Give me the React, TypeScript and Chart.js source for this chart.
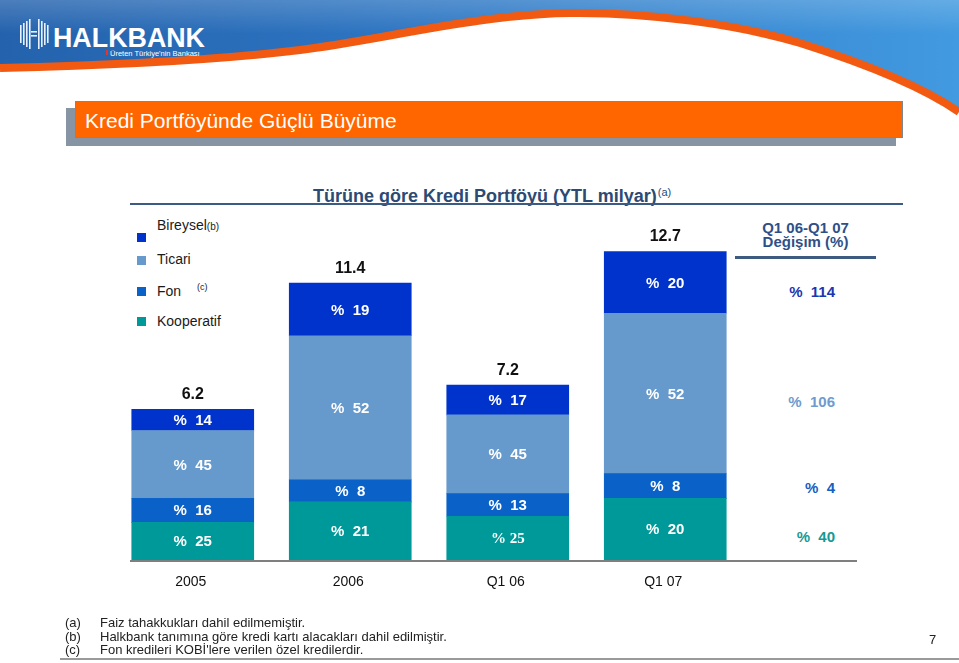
import React, { useEffect, useRef } from 'react';
import { Chart, registerables } from 'chart.js';

Chart.register(...registerables);

// ---- data ----
const categories = ['2005', '2006', 'Q1 06', 'Q1 07'];
const totals = [6.2, 11.4, 7.2, 12.7]; // YTL milyar
const seriesNames = ['Bireysel', 'Ticari', 'Fon', 'Kooperatif'];
const bireyselPct = [14, 19, 17, 20];
const ticariPct = [45, 52, 45, 52];
const fonPct = [16, 8, 13, 8];
const kooperatifPct = [25, 21, 25, 20];
const changePct = [114, 106, 4, 40]; // Q1 06-Q1 07 Değişim, order as seriesNames
const seriesColors = ['#0033CC', '#6699CC', '#0A62C8', '#009999'];
const changeColors = ['#1a36b0', '#6f9bcd', '#1560bf', '#159a95'];
const footnotes = [
  ['(a)', 'Faiz tahakkukları dahil edilmemiştir.'],
  ['(b)', 'Halkbank tanımına göre kredi kartı alacakları dahil edilmiştir.'],
  ['(c)', 'Fon kredileri KOBİ\'lere verilen özel kredilerdir.'],
];

const pctBySeries = [bireyselPct, ticariPct, fonPct, kooperatifPct];
const FONT = '"Liberation Sans", Arial, Helvetica, sans-serif';

const labelPlugin = {
  id: 'slideLabels',
  afterDatasetsDraw(chart: any) {
    const { ctx } = chart;
    ctx.save();
    ctx.textAlign = 'center';
    ctx.textBaseline = 'middle';
    const n = chart.data.datasets.length;
    for (let d = 0; d < n; d++) {
      const ds: any = chart.data.datasets[d];
      const meta = chart.getDatasetMeta(d);
      meta.data.forEach((bar: any, i: number) => {
        const p = bar.getProps(['x', 'y', 'base'], true);
        const pct = ds.pct[i];
        const serif = ds.label === 'Kooperatif' && categories[i] === 'Q1 06';
        ctx.fillStyle = '#ffffff';
        ctx.font = serif ? 'bold 15px "Liberation Serif", "Times New Roman", serif' : 'bold 15px ' + FONT;
        ctx.fillText(serif ? '% ' + pct : '%  ' + pct, p.x, (p.y + p.base) / 2 + 1);
        if (d === n - 1) {
          ctx.fillStyle = '#111111';
          ctx.font = 'bold 16px ' + FONT;
          ctx.fillText(totals[i].toFixed(1), p.x, p.y - 15);
        }
      });
    }
    // baseline
    const y0 = chart.scales.y.getPixelForValue(0);
    ctx.strokeStyle = '#7f7f7f';
    ctx.lineWidth = 2;
    ctx.beginPath();
    ctx.moveTo(130, y0 + 1);
    ctx.lineTo(857, y0 + 1);
    ctx.stroke();
    // category labels
    ctx.fillStyle = '#111111';
    ctx.font = '14px ' + FONT;
    categories.forEach((c, i) => {
      ctx.fillText(c, chart.scales.x.getPixelForValue(i) - 2, y0 + 22);
    });
    ctx.restore();
  },
};

const ARC = 'C120,65 220,60 300,50 C380,40 480,14 570,13 C650,12 740,25 800,43 C860,62 920,85 959,112';
const FILL = 'M0,0 H959 V112 C920,85 860,62 800,43 C740,25 650,12 570,13 C480,14 380,40 300,50 C220,60 120,65 0,68 Z';

function Header() {
  return (
    <svg width={959} height={118} style={{ position: 'absolute', left: 0, top: 0 }}>
      <defs>
        <linearGradient id="hb" x1="0" y1="0" x2="1" y2="0">
          <stop offset="0" stopColor="#2462ad" />
          <stop offset="0.5" stopColor="#2f79c6" />
          <stop offset="1" stopColor="#429ae0" />
        </linearGradient>
        <linearGradient id="hv" x1="0" y1="0" x2="0" y2="1">
          <stop offset="0" stopColor="#ffffff" stopOpacity="0.18" />
          <stop offset="0.3" stopColor="#ffffff" stopOpacity="0" />
        </linearGradient>
      </defs>
      <path d={FILL} fill="url(#hb)" />
      <path d={FILL} fill="url(#hv)" />
      <path d={'M0,68 ' + ARC} fill="none" stroke="#f25a12" strokeWidth={8} />
      {/* emblem */}
      <g fill="#e8f1fb">
        {[20, 23, 26, 29].map((x, k) => (
          <rect key={'l' + k} x={x} y={19 + (3 - k) * 2} width={1.6} height={30 - (3 - k) * 4} />
        ))}
        {[38, 41, 44, 47].map((x, k) => (
          <rect key={'r' + k} x={x} y={19 + k * 2} width={1.6} height={30 - k * 4} />
        ))}
        <rect x={31} y={31} width={6} height={1.6} />
        <rect x={31} y={35} width={6} height={1.6} />
      </g>
      <text x={53} y={47} fill="#ffffff" fontFamily={FONT} fontWeight="bold" fontSize={27} textLength={152} lengthAdjust="spacingAndGlyphs">
        HALKBANK
      </text>
      <rect x={106} y={50} width={2} height={5} fill="#e3342f" />
      <text x={110} y={56} fill="#ffffff" fontFamily={FONT} fontSize={7.5}>
        Üreten Türkiye'nin Bankası
      </text>
    </svg>
  );
}

export default function App() {
  const canvasRef = useRef<HTMLCanvasElement | null>(null);

  useEffect(() => {
    document.body.style.margin = '0';
    const canvas = canvasRef.current;
    if (!canvas) return;
    const order = [3, 2, 1, 0]; // Kooperatif bottom ... Bireysel top
    const datasets = order.map((s) => ({
      label: seriesNames[s],
      data: totals.map((t, i) => (t * pctBySeries[s][i]) / 100),
      pct: pctBySeries[s],
      backgroundColor: seriesColors[s],
      borderWidth: 0,
      barThickness: 122,
    }));
    const chart = new Chart(canvas, {
      type: 'bar',
      data: { labels: categories, datasets: datasets as any },
      options: {
        responsive: false,
        animation: false,
        devicePixelRatio: 1,
        layout: { padding: { left: 114, right: 215, top: 220, bottom: 103 } },
        scales: {
          x: { stacked: true, display: false },
          y: { stacked: true, display: false, min: 0, max: 14 },
        },
        plugins: { legend: { display: false }, tooltip: { enabled: false }, title: { display: false } },
      },
      plugins: [labelPlugin],
    });
    return () => chart.destroy();
  }, []);

  const abs = (o: React.CSSProperties): React.CSSProperties => ({ position: 'absolute', whiteSpace: 'nowrap', ...o });

  return (
    <div style={{ position: 'absolute', left: 0, top: 0, width: 959, height: 663, background: '#ffffff', overflow: 'hidden', fontFamily: FONT }}>
      <Header />
      {/* title box */}
      <div style={abs({ left: 66, top: 108, width: 830, height: 38, background: '#8694a4' })} />
      <div style={abs({ left: 75, top: 101, width: 826, height: 35, background: '#ff6600', border: '1px solid #7b8794' })} />
      <div style={abs({ left: 85, top: 109, fontSize: 21, lineHeight: '24px', color: '#ffffff' })}>
        Kredi Portföyünde Güçlü Büyüme
      </div>

      {/* chart title */}
      <div style={abs({ left: 313, top: 182, fontSize: 18, lineHeight: '21px', fontWeight: 'bold', color: '#2b4a74' })}>
        Türüne göre Kredi Portföyü (YTL milyar)
        <span style={{ fontSize: 11, fontWeight: 'normal', verticalAlign: '6px', marginLeft: 1 }}>(a)</span>
      </div>
      <div style={abs({ left: 130, top: 203, width: 773, height: 2, background: '#3b5b84' })} />

      {/* legend */}
      {seriesNames.map((name, k) => {
        const ty = [217, 251, 283, 313][k];
        const sy = [233, 256, 287, 317][k];
        return (
          <React.Fragment key={name}>
            <div style={abs({ left: 137, top: sy, width: 9, height: 9, background: seriesColors[k] })} />
            <div style={abs({ left: 157, top: ty, fontSize: 14, lineHeight: '16px', color: '#1a1a1a' })}>
              {name}
              {k === 0 && <span style={{ fontSize: 10 }}>(b)</span>}
              {k === 2 && <span style={{ fontSize: 9, position: 'absolute', left: 40, top: -4 }}>(c)</span>}
            </div>
          </React.Fragment>
        );
      })}

      {/* change column header */}
      <div style={abs({ left: 735, top: 221, width: 141, textAlign: 'center', fontSize: 15, lineHeight: '14px', fontWeight: 'bold', color: '#2e5088' })}>
        Q1 06-Q1 07
        <br />
        Değişim (%)
      </div>
      <div style={abs({ left: 735, top: 256, width: 141, height: 3, background: '#3d5a80' })} />
      {changePct.map((v, k) => (
        <div
          key={k}
          style={abs({ left: 735, width: 100, top: [284, 394, 480, 529][k], textAlign: 'right', fontSize: 15, lineHeight: '16px', fontWeight: 'bold', color: changeColors[k] })}
        >
          {'%\u00a0\u00a0' + v}
        </div>
      ))}

      <canvas ref={canvasRef} width={959} height={663} style={{ position: 'absolute', left: 0, top: 0 }} />

      {/* footnotes */}
      {footnotes.map(([a, t], k) => (
        <React.Fragment key={a}>
          <div style={abs({ left: 65, top: 615 + k * 13.5, fontSize: 13, lineHeight: '15px', color: '#222' })}>{a}</div>
          <div style={abs({ left: 100, top: 615 + k * 13.5, fontSize: 13, lineHeight: '15px', color: '#222' })}>{t}</div>
        </React.Fragment>
      ))}
      <div style={abs({ left: 929, top: 632, fontSize: 13, lineHeight: '16px', color: '#222' })}>7</div>
      <div style={abs({ left: 60, top: 658, width: 899, height: 2, background: '#9a9a9a' })} />
    </div>
  );
}
